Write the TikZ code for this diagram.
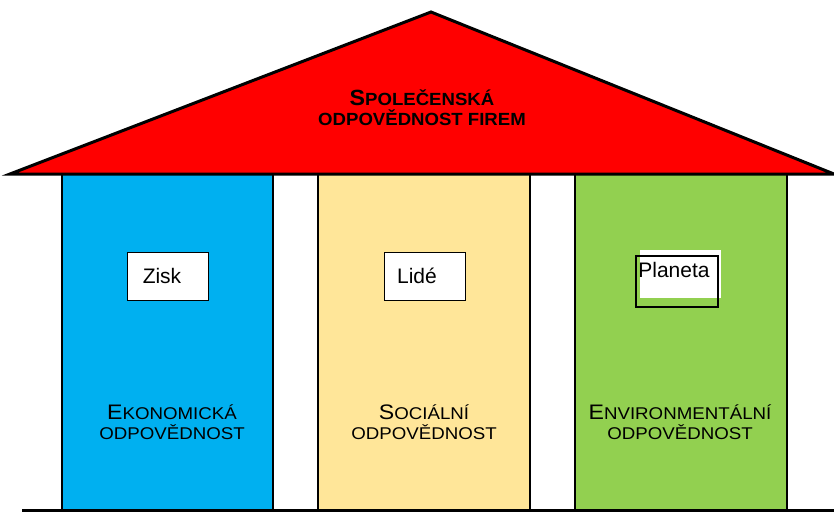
\documentclass[tikz,border=0pt]{standalone}
\usepackage{fontspec}
\setmainfont{Liberation Sans}
\usetikzlibrary{positioning}

\definecolor{roofred}{HTML}{FF0000}
\definecolor{ekoblue}{HTML}{00B0F0}
\definecolor{socyellow}{HTML}{FFE699}
\definecolor{envgreen}{HTML}{92D050}

% capital letter plus small caps imitation
\newcommand{\scword}[2]{{\fontsize{15.75}{18}\selectfont #1}{\fontsize{12.75}{18}\selectfont #2}}
\newcommand{\roofword}[2]{{\fontsize{16.5}{18}\selectfont #1}{\fontsize{13.2}{18}\selectfont #2}}

\begin{document}
\begin{tikzpicture}[x=0.75pt, y=-0.75pt,
    pillar/.style={draw=black, line width=1.5pt},
    caption/.style={align=center, inner sep=0pt, xscale=1.1, transform shape},
    word/.style={font=\fontsize{15.75}{18}\selectfont, inner sep=0pt},
    tag/.style={draw=black, fill=white, line width=0.75pt,
      minimum width=60.75pt, minimum height=36pt, inner sep=0pt}]
  \useasboundingbox (0,0) rectangle (834,512);
  \def\top{174}
  \def\ground{510}

  % pillars
  \draw[pillar, fill=ekoblue] (62,\top) rectangle (273,\ground);
  \draw[pillar, fill=socyellow] (318,\top) rectangle (530,\ground);
  \draw[pillar, fill=envgreen] (575,\top) rectangle (787,\ground);

  % ground
  \coordinate (gl) at (22,\ground);
  \coordinate (gr) at (834,\ground);
  \draw[line width=2.25pt] (gl) -- (gr);

  % roof
  \coordinate (apex) at (431,12);
  \coordinate (rl) at (10,\top);
  \coordinate (rr) at (834,\top);
  \draw[line width=2.25pt, fill=roofred, line join=miter] (rl) -- (apex) -- (rr) -- cycle;
  \node[caption, xscale=0.96, font=\bfseries] (csr) at (422,108)
    {\roofword{S}{POLEČENSKÁ}\\[3pt]\roofword{}{ODPOVĚDNOST FIREM}};

  % tags
  \node[tag] (zisk) at (167.5,276) {};
  \node[word] at (162,276) {Zisk};
  \node[tag] (lide) at (424.5,276) {};
  \node[word] at (417,276) {Lidé};
  \fill[white] (640,250) rectangle (721,298);
  \draw[line width=1.1pt] (636,256) rectangle (718,307);
  \node[word] (planeta) at (674,270) {Planeta};

  % pillar captions
  \node[caption] (eko) at (172,422) {\scword{E}{KONOMICKÁ}\\[3pt]\scword{}{ODPOVĚDNOST}};
  \node[caption] (soc) at (424,422) {\scword{S}{OCIÁLNÍ}\\[3pt]\scword{}{ODPOVĚDNOST}};
  \node[caption] (env) at (680,422) {\scword{E}{NVIRONMENTÁLNÍ}\\[3pt]\scword{}{ODPOVĚDNOST}};
\end{tikzpicture}
\end{document}
